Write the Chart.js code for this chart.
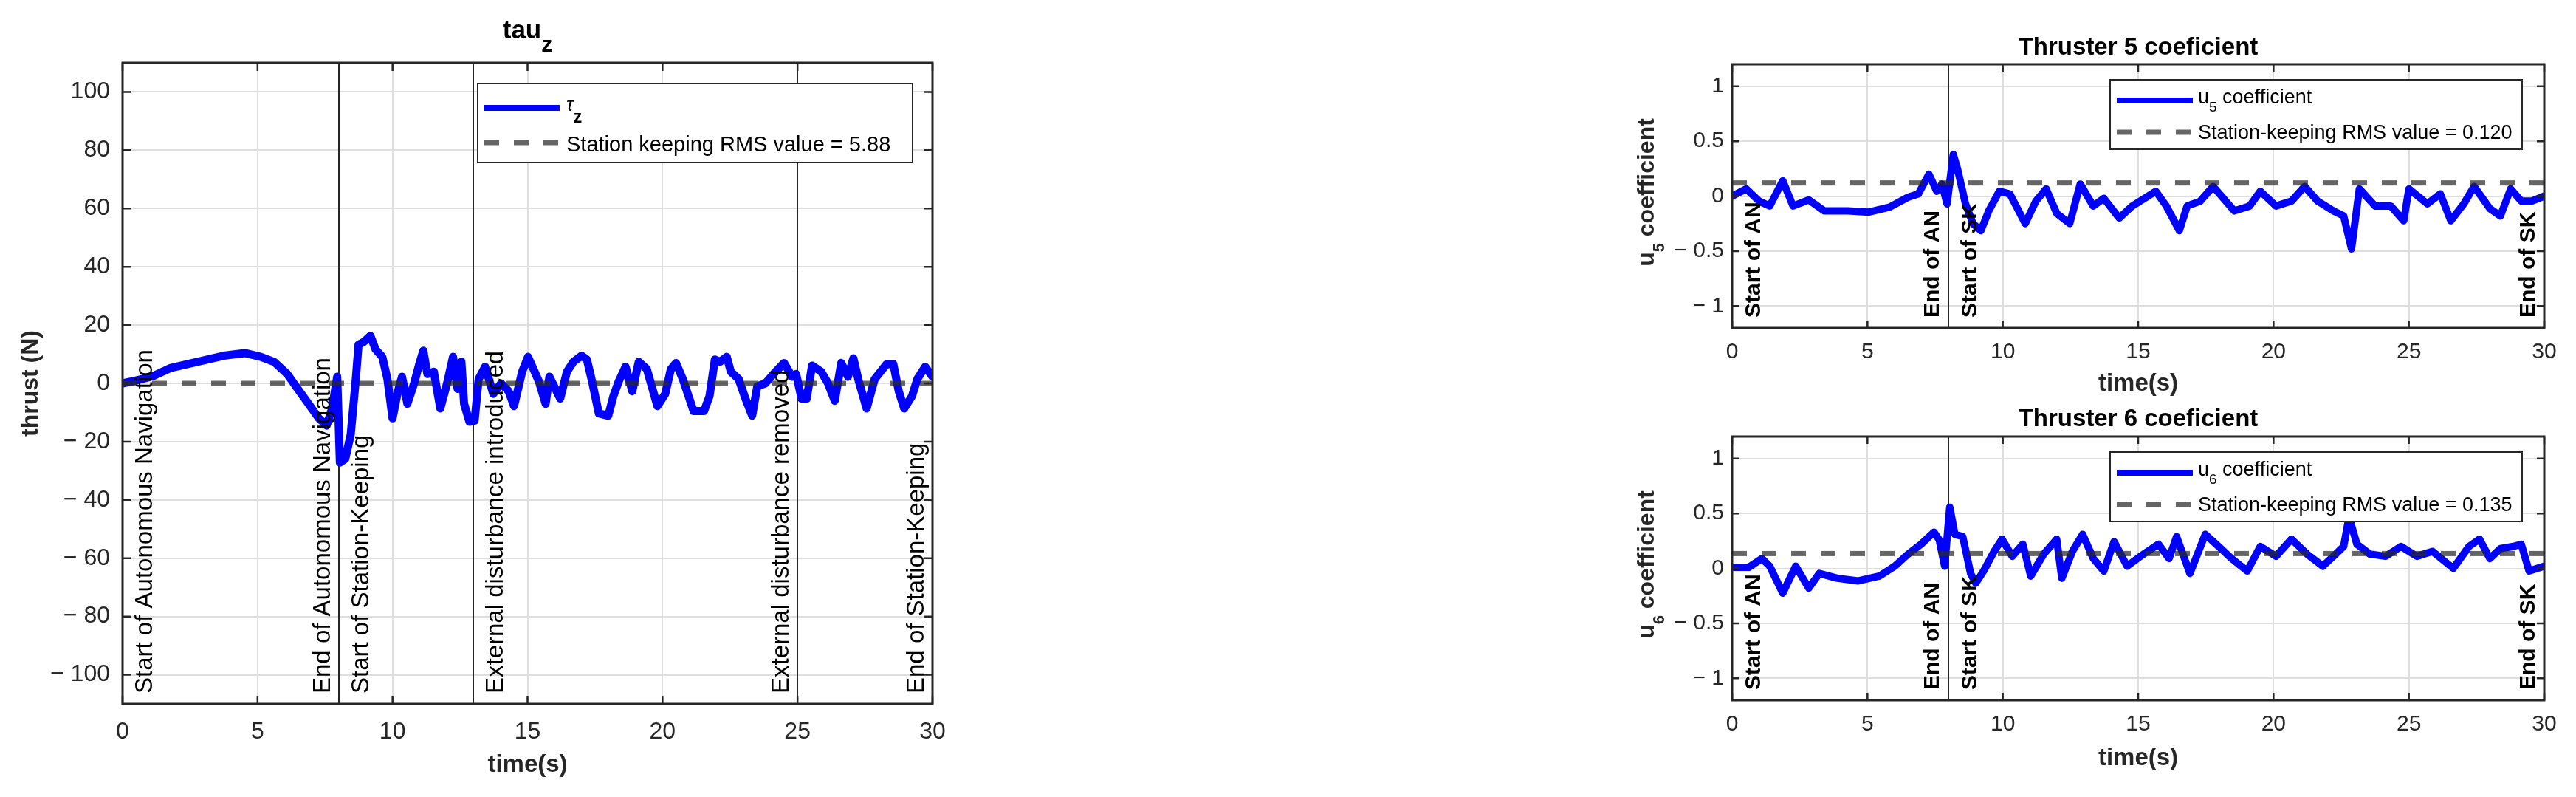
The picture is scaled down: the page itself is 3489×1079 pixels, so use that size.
<!DOCTYPE html>
<html>
<head>
<meta charset="utf-8">
<script src="https://cdn.jsdelivr.net/npm/chart.js@4.4.1/dist/chart.umd.min.js"></script>
<style>
  body { margin: 0; background: #fff; width: 3489px; height: 1079px; overflow: hidden; position: relative; }
  canvas { position: absolute; }
</style>
</head>
<body>
<canvas id="tauChart" width="1330" height="1079" style="left:0px;top:0px"></canvas>
<canvas id="u5Chart" width="1339" height="540" style="left:2150px;top:0px"></canvas>
<canvas id="u6Chart" width="1339" height="539" style="left:2150px;top:540px"></canvas>
<script>
// ticks
const timeTicks = [0, 5, 10, 15, 20, 25, 30];
const tauTicks = [-100, -80, -60, -40, -20, 0, 20, 40, 60, 80, 100];
const coefTicks = [-1, -0.5, 0, 0.5, 1];

// tau_z (N)
const tauTime = [0, 0.5, 1.11, 1.79, 2.77, 3.75, 4.53, 5.12, 5.61, 6.1, 6.49, 6.88, 7.27, 7.56, 7.76, 7.95,
  8.05, 8.25, 8.45, 8.64, 8.74, 8.93, 9.18, 9.37, 9.62, 9.81, 10.0, 10.2, 10.35, 10.55, 10.8, 10.99,
  11.14, 11.29, 11.53, 11.77, 12.02, 12.24, 12.41, 12.55, 12.65, 12.85, 13.04, 13.19, 13.43, 13.73,
  14.02, 14.3, 14.5, 14.8, 15.02, 15.22, 15.42, 15.67, 15.81, 16.21, 16.46, 16.7, 17.0, 17.2, 17.39,
  17.64, 17.99, 18.18, 18.38, 18.63, 18.88, 19.12, 19.42, 19.81, 20.1, 20.31, 20.5, 20.75, 21.15,
  21.54, 21.74, 21.94, 22.13, 22.38, 22.53, 22.82, 23.07, 23.32, 23.51, 23.81, 24.11, 24.5, 24.8,
  24.95, 25.15, 25.34, 25.54, 25.88, 26.13, 26.38, 26.62, 26.87, 27.07, 27.27, 27.56, 27.86, 28.3,
  28.55, 28.75, 28.95, 29.24, 29.44, 29.73, 30.0];
const tauValue = [0, 1.0, 2.4, 5.3, 7.4, 9.5, 10.4, 9.1, 7.4, 3.2, -1.9, -6.9, -12, -14.5, -8.6, 2.3,
  -27.2, -25.9, -17.6, 1.5, 13.3, 14.2, 16.3, 11.7, 9.1, 1.5, -12, -2.7, 2.3, -7, 0, 6.6,
  11.2, 3.2, 4.0, -8.6, 0, 9.1, -1.9, 7.4, -7, -13.2, -12.8, 1.5, 5.7, -3.6,
  0, -2.7, -7.8, 4, 9.1, 4.9, 0.7, -7, 2.3, -5.2, 4, 7.4, 9.5, 8.2, 0.7,
  -10.3, -11.1, -4.4, 0.7, 5.7, -2.7, 7.4, 4.9, -7.8, -3.6, 4.9, 7, 1.5, -9.5,
  -9.5, -4.4, 8.2, 7.4, 9.1, 4, 1.5, -5.2, -11.1, -1, 0, 3.2, 7, 2.3,
  3.2, -5.2, -5.2, 6.1, 4, 0, -6, 7, 2.3, 8.6, 0.7, -8.6, 1.5, 6.6,
  6.6, -2.7, -8.6, -4.4, 1.5, 5.7, 2.3];

// u5 coefficient
const u5Time = [0, 0.52, 1.0, 1.39, 1.87, 2.25, 2.83, 3.41, 4.28, 5.05, 5.82, 6.5, 6.88, 7.27, 7.56, 7.75,
  7.94, 8.17, 8.33, 8.62, 8.9, 9.19, 9.48, 9.87, 10.26, 10.83, 11.22, 11.6, 11.99, 12.47, 12.86, 13.34,
  13.73, 14.3, 14.78, 15.65, 16.04, 16.52, 16.81, 17.29, 17.77, 18.55, 19.12, 19.51, 20.09, 20.66,
  21.15, 21.63, 22.21, 22.59, 22.88, 23.17, 23.75, 24.33, 24.81, 25.0, 25.68, 26.16, 26.55, 27.03,
  27.41, 27.99, 28.38, 28.76, 29.15, 29.53, 30];
const u5Value = [0, 0.066, -0.046, -0.09, 0.14, -0.09, -0.035, -0.135, -0.135, -0.146, -0.1, -0.01, 0.02, 0.2, 0.044, 0.11,
  -0.07, 0.38, 0.245, -0.07, -0.25, -0.314, -0.135, 0.044, 0.02, -0.25, -0.046, 0.066, -0.157, -0.25, 0.11, -0.09,
  -0.02, -0.2, -0.09, 0.044, -0.09, -0.314, -0.09, -0.046, 0.088, -0.135, -0.09, 0.044, -0.09, -0.046,
  0.088, -0.046, -0.135, -0.18, -0.48, 0.066, -0.09, -0.09, -0.224, 0.066, -0.07, 0.02, -0.224, -0.07,
  0.088, -0.113, -0.18, 0.066, -0.046, -0.046, 0];

// u6 coefficient
const u6Time = [0, 0.62, 1.1, 1.39, 1.87, 2.35, 2.83, 3.22, 3.89, 4.66, 5.44, 6.01, 6.5, 6.98, 7.46, 7.65,
  7.85, 8.04, 8.23, 8.52, 8.81, 9.0, 9.29, 9.68, 9.97, 10.35, 10.74, 11.03, 11.51, 11.99, 12.18, 12.57,
  12.95, 13.34, 13.73, 14.11, 14.59, 15.08, 15.75, 16.14, 16.42, 16.91, 17.48, 17.97, 18.45, 19.03,
  19.51, 20.09, 20.66, 21.24, 21.82, 22.3, 22.59, 22.79, 23.08, 23.56, 24.14, 24.71, 25.29, 25.87,
  26.64, 27.22, 27.61, 27.99, 28.38, 28.86, 29.15, 29.44, 30];
const u6Value = [0.01, 0.01, 0.09, 0.02, -0.225, 0.02, -0.18, -0.046, -0.09, -0.114, -0.07, 0.02, 0.13, 0.22, 0.33, 0.26,
  0.02, 0.557, 0.31, 0.289, -0.046, -0.135, -0.024, 0.155, 0.266, 0.11, 0.22, -0.07, 0.13, 0.266, -0.09, 0.155,
  0.31, 0.09, -0.024, 0.244, 0.02, 0.11, 0.22, 0.09, 0.289, -0.046, 0.31, 0.2, 0.09, -0.024,
  0.2, 0.11, 0.266, 0.13, 0.02, 0.13, 0.2, 0.468, 0.22, 0.13, 0.11, 0.2, 0.11, 0.155,
  0, 0.2, 0.266, 0.09, 0.18, 0.2, 0.22, -0.024, 0.02];

// dashed reference levels
const tauRmsLevel = 0;
const u5Rms = 0.120;
const u6Rms = 0.135;

// event markers
const tauEventTimes = [0, 8, 8, 13, 25, 30];
const tauEventLabels = ['Start of Autonomous Navigation', 'End of Autonomous Navigation', 'Start of Station-Keeping',
  'External disturbance introduced', 'External disturbance removed', 'End of Station-Keeping'];
const tauEventSides = ['right', 'left', 'right', 'right', 'left', 'left'];
const coefEventTimes = [0, 8, 8, 30];
const coefEventLabels = ['Start of AN', 'End of AN', 'Start of SK', 'End of SK'];
const coefEventSides = ['right', 'left', 'right', 'left'];

const FONT = '"Liberation Sans", Arial, Helvetica, sans-serif';
const INK = '#262626';
const GRID = '#dedede';
const BLUE = '#0000ff';
const DASH = 'rgba(42,42,42,0.72)';
Chart.defaults.font.family = FONT;

// "u_5 coefficient" -> pieces, a char after _ is a subscript
function texParts(s) {
  const out = [];
  let buf = '';
  for (let i = 0; i < s.length; i++) {
    if (s[i] === '_') {
      if (buf) out.push({ text: buf });
      buf = '';
      out.push({ text: s[i + 1], sub: true });
      i++;
    } else buf += s[i];
  }
  if (buf) out.push({ text: buf });
  return out;
}

function partFont(p, st) {
  if (p.sub) return (st.subWeight || st.weight || 'normal') + ' ' + st.subSize + 'px ' + FONT;
  const italic = /[\u03b1-\u03c9]/.test(p.text) ? 'italic ' : '';
  const size = italic && st.greekSize ? st.greekSize : st.size;
  return italic + (st.weight || 'normal') + ' ' + size + 'px ' + FONT;
}

function drawTex(ctx, str, x, y, st, align) {
  const parts = texParts(str);
  let w = 0;
  parts.forEach(p => { ctx.font = partFont(p, st); w += ctx.measureText(p.text).width; });
  let cx = align === 'center' ? x - w / 2 : x;
  ctx.textAlign = 'left';
  ctx.textBaseline = 'alphabetic';
  parts.forEach(p => {
    ctx.font = partFont(p, st);
    ctx.fillText(p.text, cx, y + (p.sub ? st.subDy : 0));
    cx += ctx.measureText(p.text).width;
  });
}

const matlabPlugin = {
  id: 'matlab',
  beforeDatasetsDraw(chart, args, o) {
    const { ctx, chartArea: a, scales: { x } } = chart;
    ctx.save();
    ctx.strokeStyle = INK;
    ctx.lineWidth = 2;
    o.events.forEach(t => {
      const px = Math.round(x.getPixelForValue(t));
      ctx.beginPath();
      ctx.moveTo(px, a.top);
      ctx.lineTo(px, a.bottom);
      ctx.stroke();
    });
    ctx.restore();
  },
  afterDatasetsDraw(chart, args, o) {
    const { ctx, chartArea: a, scales: { x, y } } = chart;
    ctx.save();

    // rotated event labels
    ctx.fillStyle = '#000';
    ctx.font = o.eventFont;
    ctx.textAlign = 'left';
    ctx.textBaseline = 'alphabetic';
    o.events.forEach((t, i) => {
      const side = o.eventSides[i];
      const px = x.getPixelForValue(t) + (side === 'right' ? o.eventGap.right : -o.eventGap.left);
      ctx.save();
      ctx.translate(px, a.bottom - 14);
      ctx.rotate(-Math.PI / 2);
      ctx.fillText(o.eventLabels[i], 0, 0);
      ctx.restore();
    });

    // box and inward ticks
    ctx.strokeStyle = INK;
    ctx.lineWidth = 3;
    ctx.strokeRect(a.left, a.top, a.width, a.height);
    ctx.lineWidth = 2.5;
    ctx.beginPath();
    x.ticks.forEach(t => {
      const px = x.getPixelForValue(t.value);
      ctx.moveTo(px, a.bottom); ctx.lineTo(px, a.bottom - o.tickLen);
      ctx.moveTo(px, a.top); ctx.lineTo(px, a.top + o.tickLen);
    });
    y.ticks.forEach(t => {
      const py = y.getPixelForValue(t.value);
      ctx.moveTo(a.left, py); ctx.lineTo(a.left + o.tickLen, py);
      ctx.moveTo(a.right, py); ctx.lineTo(a.right - o.tickLen, py);
    });
    ctx.stroke();

    // legend box
    const L = o.legend;
    const bx = a.right - L.right - L.width, by = a.top + L.top;
    ctx.fillStyle = '#fff';
    ctx.fillRect(bx, by, L.width, L.height);
    ctx.strokeStyle = INK;
    ctx.lineWidth = 2;
    ctx.strokeRect(bx, by, L.width, L.height);
    chart.data.datasets.forEach((ds, i) => {
      const row = L.rows[i];
      ctx.save();
      ctx.strokeStyle = ds.borderColor;
      ctx.lineWidth = row.width;
      ctx.setLineDash(ds.borderDash || []);
      ctx.beginPath();
      ctx.moveTo(bx + L.sampleX, by + row.line);
      ctx.lineTo(bx + L.sampleX + L.sampleLen, by + row.line);
      ctx.stroke();
      ctx.restore();
      ctx.fillStyle = '#000';
      drawTex(ctx, ds.label, bx + L.textX, by + row.base, L.font, 'left');
    });

    // title
    ctx.fillStyle = '#000';
    drawTex(ctx, o.title, (a.left + a.right) / 2, o.titleY, o.titleFont, 'center');

    // y label with subscript
    if (o.yTitle) {
      ctx.save();
      ctx.fillStyle = INK;
      ctx.translate(a.left - o.yTitleOffset, (a.top + a.bottom) / 2 - 5);
      ctx.rotate(-Math.PI / 2);
      drawTex(ctx, o.yTitle, 0, 0, o.yTitleFont, 'center');
      ctx.restore();
    }
    ctx.restore();
  }
};

const fmtTick = v => (v < 0 ? '\u2212 ' : '') + Math.abs(v);

function timeAxis(height, tickSize, tickPad, titlePadBottom) {
  return {
    type: 'linear', min: 0, max: 30,
    afterBuildTicks: s => { s.ticks = timeTicks.map(v => ({ value: v })); },
    afterFit: s => { s.height = height; },
    grid: { color: GRID, lineWidth: 2, drawTicks: false },
    border: { display: false },
    ticks: { font: { size: tickSize }, color: INK, padding: tickPad, maxRotation: 0, autoSkip: false, callback: v => String(v) },
    title: { display: true, text: 'time(s)', color: INK, font: { size: 33, weight: 'bold' }, padding: { top: 0, bottom: titlePadBottom } }
  };
}

function valueAxis(width, min, max, tickValues, tickSize, tickPad, title) {
  return {
    type: 'linear', min: min, max: max,
    afterBuildTicks: s => { s.ticks = tickValues.map(v => ({ value: v })); },
    afterFit: s => { s.width = width; },
    grid: { color: GRID, lineWidth: 2, drawTicks: false },
    border: { display: false },
    ticks: { font: { size: tickSize }, color: INK, padding: tickPad, autoSkip: false, callback: fmtTick },
    title: title
  };
}

function series(label, times, values, width) {
  return {
    label: label,
    data: times.map((t, i) => ({ x: t, y: values[i] })),
    borderColor: BLUE, borderWidth: width, pointRadius: 0, tension: 0,
    borderJoinStyle: 'round', borderCapStyle: 'round', order: 2
  };
}

function rmsLine(label, level) {
  return {
    label: label,
    data: [{ x: 0, y: level }, { x: 30, y: level }],
    borderColor: DASH, borderWidth: 7, borderDash: [20, 20], pointRadius: 0, order: 1
  };
}

// left: tau_z
new Chart(document.getElementById('tauChart'), {
  type: 'line',
  data: {
    datasets: [
      series('\u03c4_z', tauTime, tauValue, 11),
      rmsLine('Station keeping RMS value = 5.88', tauRmsLevel)
    ]
  },
  options: {
    responsive: false, animation: false, parsing: false,
    layout: { padding: { left: 0, top: 85, right: 67, bottom: 0 } },
    scales: {
      x: timeAxis(126, 32, 19, 23),
      y: valueAxis(166, -110, 110, tauTicks, 32, 17,
        { display: true, text: 'thrust (N)', color: INK, font: { size: 32, weight: 'bold' }, padding: { top: 23, bottom: 0 } })
    },
    plugins: {
      legend: { display: false }, tooltip: { enabled: false },
      matlab: {
        events: tauEventTimes, eventLabels: tauEventLabels, eventSides: tauEventSides,
        eventFont: '33px ' + FONT, eventGap: { left: 12, right: 40 }, tickLen: 11,
        title: 'tau_z', titleY: 52, titleFont: { size: 35, weight: 'bold', subSize: 30, subDy: 18 },
        legend: {
          right: 27, top: 28, width: 589, height: 107, sampleX: 9, sampleLen: 102, textX: 120,
          font: { size: 29, greekSize: 26, subSize: 23, subWeight: 'bold', subDy: 16 },
          rows: [{ line: 33, base: 37, width: 8 }, { line: 80, base: 92, width: 7 }]
        }
      }
    }
  },
  plugins: [matlabPlugin]
});

function coefChart(id, n, times, values, rms, padTop, xHeight, titleY, titlePadBottom) {
  new Chart(document.getElementById(id), {
    type: 'line',
    data: {
      datasets: [
        series('u_' + n + ' coefficient', times, values, 10),
        rmsLine('Station-keeping RMS value = ' + rms.toFixed(3), rms)
      ]
    },
    options: {
      responsive: false, animation: false, parsing: false,
      layout: { padding: { left: 0, top: padTop, right: 43, bottom: 0 } },
      scales: {
        x: timeAxis(xHeight, 30, 15, titlePadBottom),
        y: valueAxis(196, -1.2, 1.2, coefTicks, 30, 11, { display: false })
      },
      plugins: {
        legend: { display: false }, tooltip: { enabled: false },
        matlab: {
          events: coefEventTimes, eventLabels: coefEventLabels, eventSides: coefEventSides,
          eventFont: 'bold 30px ' + FONT, eventGap: { left: 13, right: 38 }, tickLen: 10,
          title: 'Thruster ' + n + ' coeficient', titleY: titleY, titleFont: { size: 33, weight: 'bold' },
          yTitle: 'u_' + n + ' coefficient', yTitleOffset: 106,
          yTitleFont: { size: 32, weight: 'bold', subSize: 22, subDy: 14 },
          legend: {
            right: 30, top: 21, width: 558, height: 94, sampleX: 9, sampleLen: 103, textX: 119,
            font: { size: 27, subSize: 19, subDy: 11 },
            rows: [{ line: 28, base: 32, width: 8 }, { line: 71, base: 80, width: 7 }]
          }
        }
      }
    },
    plugins: [matlabPlugin]
  });
}

coefChart('u5Chart', 5, u5Time, u5Value, u5Rms, 87, 96, 74, 0);
coefChart('u6Chart', 6, u6Time, u6Value, u6Rms, 51, 131, 37, 32);
</script>
</body>
</html>
